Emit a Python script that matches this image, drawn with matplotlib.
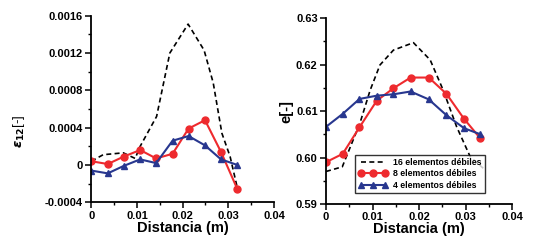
import matplotlib
matplotlib.use("Agg")
import matplotlib.pyplot as plt
from matplotlib.ticker import MultipleLocator, FuncFormatter

plt.rcParams['font.family'] = ['Liberation Sans', 'DejaVu Sans']
plt.rcParams['font.weight'] = 'bold'

# ---- left panel: shear strain e12 ----
x_left = [0, 0.0036, 0.0071, 0.0107, 0.0142, 0.0178, 0.0213, 0.0249, 0.0284, 0.032]
e12_8 = [0.00004, 0.00001, 0.00009, 0.00016, 0.00007, 0.00012, 0.00039, 0.00048, 0.00014, -0.00026]
e12_4 = [-0.00006, -0.00009, -0.00001, 0.00006, 0.00002, 0.00026, 0.00031, 0.00021, 0.00006, 0.0]
x_left16 = [0, 0.0026, 0.007, 0.0096, 0.0107, 0.0143, 0.0172, 0.0212, 0.0247, 0.0267, 0.0286, 0.0304, 0.032]
e12_16 = [0.00004, 0.00011, 0.00013, 0.00007, 0.0002, 0.00052, 0.0012, 0.00151, 0.00123, 0.00088, 0.00034, 0.00009, -0.00025]

# ---- right panel: void ratio e ----
x_right = [0, 0.0036, 0.0072, 0.0109, 0.0145, 0.0182, 0.0221, 0.0259, 0.0297, 0.0332]
e_8 = [0.5990, 0.6008, 0.6065, 0.6122, 0.6149, 0.6172, 0.6172, 0.6137, 0.6083, 0.6041]
e_4 = [0.6066, 0.6094, 0.6126, 0.6133, 0.6136, 0.6142, 0.6125, 0.6091, 0.6063, 0.6050]
x_right16 = [0, 0.0035, 0.0073, 0.0095, 0.0116, 0.0145, 0.0188, 0.0224, 0.0252, 0.0281, 0.031, 0.0338]
e_16 = [0.5970, 0.5980, 0.6074, 0.6145, 0.6199, 0.6231, 0.6247, 0.6210, 0.6145, 0.6066, 0.6002, 0.5977]

labels = ["16 elementos débiles", "8 elementos débiles", "4 elementos débiles"]
red = "#ee2a2e"
blue = "#28378f"

fig = plt.figure(figsize=(5.34, 2.47), dpi=100)
ax1 = fig.add_axes([0.171, 0.181, 0.342, 0.7555])
ax2 = fig.add_axes([0.6105, 0.174, 0.3483, 0.753])

for ax in (ax1, ax2):
    for s in ("top", "right"):
        ax.spines[s].set_visible(False)
    for s in ("left", "bottom"):
        ax.spines[s].set_linewidth(1.3)
    ax.tick_params(which="major", direction="out", length=4, width=1.1, labelsize=8, pad=2)
    ax.tick_params(which="minor", direction="out", length=2, width=1)
    ax.set_xlim(0, 0.04)
    ax.xaxis.set_major_locator(MultipleLocator(0.01))
    ax.xaxis.set_minor_locator(MultipleLocator(0.005))
    ax.xaxis.set_major_formatter(FuncFormatter(lambda v, p: "0" if abs(v) < 1e-12 else "%g" % v))
    ax.set_xlabel("Distancia (m)", fontsize=10.5, fontweight="bold", labelpad=0)

ax1.plot(x_left16, e12_16, color="black", ls=(0, (3, 2)), lw=1.2)
ax1.plot(x_left, e12_8, color=red, lw=1.5, marker="o", ms=5)
ax1.plot(x_left, e12_4, color=blue, lw=1.5, marker="^", ms=4.5)
ax1.set_ylim(-0.0004, 0.0016)
ax1.yaxis.set_major_locator(MultipleLocator(0.0004))
ax1.yaxis.set_minor_locator(MultipleLocator(0.0002))
ax1.yaxis.set_major_formatter(FuncFormatter(lambda v, p: "0" if abs(v) < 1e-12 else "%.4f" % v))
ax1.set_ylabel(r"$\varepsilon_{\mathbf{12}}$[-]", fontsize=9.5, fontweight="normal")
ax1.yaxis.set_label_coords(-0.35, 0.38)

ax2.plot(x_right16, e_16, color="black", ls=(0, (3, 2)), lw=1.2, label=labels[0])
ax2.plot(x_right, e_8, color=red, lw=1.5, marker="o", ms=5, label=labels[1])
ax2.plot(x_right, e_4, color=blue, lw=1.5, marker="^", ms=4.5, label=labels[2])
ax2.set_ylim(0.59, 0.63)
ax2.yaxis.set_major_locator(MultipleLocator(0.01))
ax2.yaxis.set_minor_locator(MultipleLocator(0.005))
ax2.yaxis.set_major_formatter(FuncFormatter(lambda v, p: "%.2f" % v))
ax2.set_ylabel("e[-]", fontsize=10.5, fontweight="bold", labelpad=2)

leg = ax2.legend(loc="lower left", bbox_to_anchor=(0.156, 0.059), fontsize=6.3,
                 numpoints=3, handlelength=3.4, frameon=True, fancybox=False,
                 borderpad=0.35, labelspacing=0.3, handletextpad=0.6, borderaxespad=0)
leg.get_frame().set_edgecolor("black")
leg.get_frame().set_linewidth(1.0)

fig.savefig("out.png", dpi=100)
